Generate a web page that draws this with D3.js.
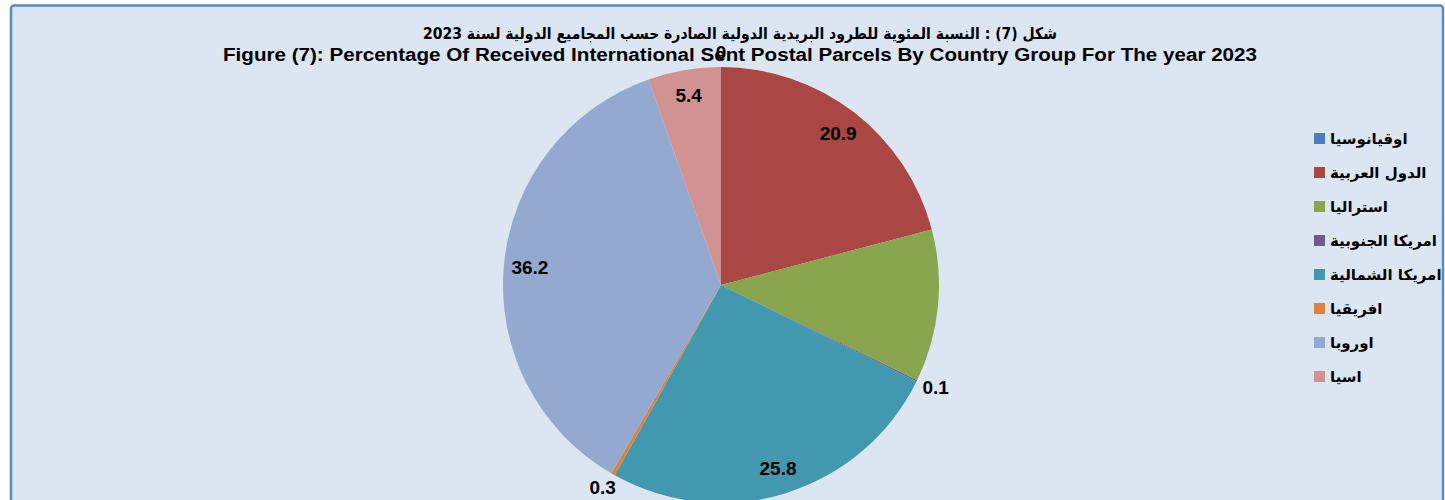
<head>
<meta charset="utf-8">
</head>
<body style="margin:0;background:#fff;">
<script src="https://d3js.org/d3.v7.min.js"></script>
<style>
  #chart { display: block; }
  .lbl { font-family: "Liberation Sans", Arial, sans-serif; font-weight: bold; fill: #000; }
  .val { font-size: 19px; }
  .ar { font-family: "DejaVu Sans", sans-serif; font-weight: bold; }
</style>
<svg id="chart"></svg>
<script>
  var groups = ["اوقيانوسيا", "الدول العربية", "استراليا", "امريكا الجنوبية", "امريكا الشمالية", "افريقيا", "اوروبا", "اسيا"];
  var shares = [0, 20.9, 11.3, 0.1, 25.8, 0.3, 36.2, 5.4];
  var shown = [true, true, false, true, true, true, true, true];
  var colors = ["#4a7ebb", "#aa4643", "#89a54e", "#71588f", "#4198af", "#db843d", "#93a9cf", "#d19392"];
  var titleAr = "شكل (7) : النسبة المئوية للطرود البريدية الدولية الصادرة حسب المجاميع الدولية لسنة 2023";
  var titleEn = "Figure (7): Percentage Of Received International Sent Postal Parcels By Country Group For  The year 2023";

  var width = 1445, height = 500;
  var svg = d3.select("#chart").attr("width", width).attr("height", height);

  // chart area
  svg.append("rect")
      .attr("x", 11).attr("y", 5.5)
      .attr("width", 1432).attr("height", 520)
      .attr("rx", 3)
      .attr("fill", "#dce6f2")
      .attr("stroke", "#5a8ac6")
      .attr("stroke-width", 2.5);

  var data = groups.map((g, i) => ({name: g, value: shares[i], show: shown[i], color: colors[i]}));

  var cx = 721, cy = 285, r = 218;
  var pie = d3.pie().sort(null).value(d => d.value);
  var arc = d3.arc().innerRadius(0).outerRadius(r);
  var arcs = pie(data);

  var g = svg.append("g").attr("transform", "translate(" + cx + "," + cy + ")");

  g.selectAll("path.slice")
      .data(arcs)
      .enter().append("path")
      .attr("class", "slice")
      .attr("fill", d => d.data.color)
      .attr("d", arc);

  // titles
  svg.append("text")
      .attr("class", "ar")
      .attr("x", 740).attr("y", 39)
      .attr("text-anchor", "middle")
      .style("font-size", "16px")
      .attr("textLength", 634)
      .attr("lengthAdjust", "spacingAndGlyphs")
      .text(titleAr);
  svg.append("text")
      .attr("class", "lbl")
      .attr("x", 740).attr("y", 61)
      .attr("text-anchor", "middle")
      .style("font-size", "17.5px")
      .attr("textLength", 1034)
      .attr("lengthAdjust", "spacingAndGlyphs")
      .text(titleEn);

  // labels: big slices inside, tiny ones pushed just past the rim
  function labelPos(d) {
    var a = (d.startAngle + d.endAngle) / 2;
    var s = Math.sin(a), c = -Math.cos(a);
    if (d.data.value >= 1) return [s * 192, c * 192];
    return [s * (r + 6) + s * 15, c * (r + 6) + c * 9];
  }
  g.selectAll("text.val")
      .data(arcs.filter(d => d.data.show))
      .enter().append("text")
      .attr("class", "lbl val")
      .attr("x", d => labelPos(d)[0])
      .attr("y", d => labelPos(d)[1])
      .attr("dy", "0.35em")
      .attr("text-anchor", "middle")
      .text(d => d.data.value);

  // legend
  var legend = svg.append("g").attr("transform", "translate(1314,133)");
  var item = legend.selectAll("g")
      .data(data)
      .enter().append("g")
      .attr("transform", (d, i) => "translate(0," + i * 34 + ")");
  item.append("rect")
      .attr("width", 11).attr("height", 11)
      .attr("fill", d => d.color);
  item.append("text")
      .attr("class", "ar")
      .attr("x", 16).attr("y", 6)
      .attr("dy", "0.35em")
      .style("font-size", "15px")
      .text(d => d.name);
</script>
</body>
